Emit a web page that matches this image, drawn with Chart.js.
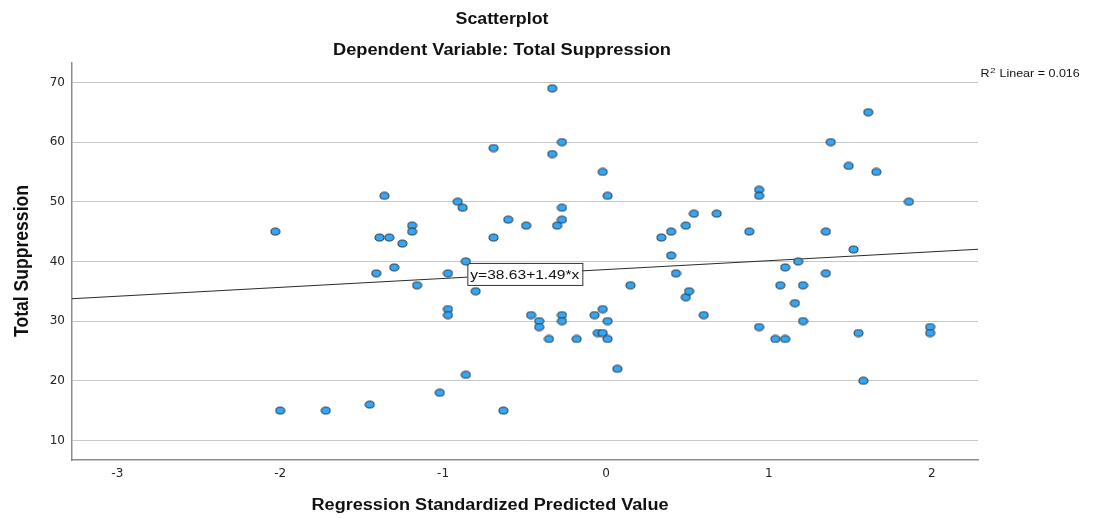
<!DOCTYPE html>
<html>
<head>
<meta charset="utf-8">
<title>Scatterplot</title>
<script src="https://cdn.jsdelivr.net/npm/chart.js@4.4.1/dist/chart.umd.min.js"></script>
<style>
  html, body { margin: 0; padding: 0; background: #ffffff; }
  #wrap { width: 1095px; height: 518px; }
</style>
</head>
<body>
<div id="wrap"><canvas id="scatter-chart" width="1095" height="518"></canvas></div>
<script>
// values
var predictedValues = [
    -2.03, -2.00, -1.72, -1.45, -1.36, -1.41, -1.30, -1.39, -1.33, -1.25,
    -1.19, -1.19, -1.16, -1.02, -0.97, -0.97, -0.97, -0.91, -0.88, -0.86,
    -0.86, -0.80, -0.69, -0.69, -0.63, -0.60, -0.49, -0.46, -0.41, -0.41,
    -0.35, -0.33, -0.33, -0.30, -0.27, -0.27, -0.27, -0.27, -0.27, -0.18,
    -0.07, -0.05, -0.02, -0.02, -0.02, 0.01, 0.01, 0.01, 0.07, 0.15,
    0.34, 0.40, 0.40, 0.43, 0.49, 0.49, 0.51, 0.54, 0.60, 0.68,
    0.88, 0.94, 0.94, 0.94, 1.04, 1.07, 1.10, 1.10, 1.16, 1.18,
    1.21, 1.21, 1.35, 1.35, 1.38, 1.49, 1.52, 1.55, 1.58, 1.61,
    1.66, 1.86, 1.99, 1.99
];
var suppressionValues = [
    45, 15, 15, 16, 51, 38, 39, 44, 44, 43,
    46, 45, 36, 18, 38, 32, 31, 50, 49, 40,
    21, 35, 59, 44, 15, 47, 46, 31, 30, 29,
    27, 69, 58, 46, 60, 49, 47, 31, 30, 27,
    31, 28, 55, 32, 28, 51, 30, 27, 22, 36,
    44, 45, 41, 38, 46, 34, 35, 48, 31, 48,
    45, 52, 51, 29, 27, 36, 39, 27, 33, 40,
    36, 30, 45, 38, 60, 56, 42, 28, 20, 65,
    55, 50, 29, 28
];
var xTicks = [-3, -2, -1, 0, 1, 2];
var yTicks = [10, 20, 30, 40, 50, 60, 70];
var fitIntercept = 38.63;
var fitSlope = 1.49;
var rSquared = '0.016';

var xMin = -3.278, xMax = 2.284;
var yMin = 6.72, yMax = 73.25;

points = [];
for (i = 0; i < predictedValues.length; i++) {
    points.push({ x: predictedValues[i], y: suppressionValues[i] });
}
fitLine = [
    { x: xMin, y: fitIntercept + fitSlope * xMin },
    { x: xMax, y: fitIntercept + fitSlope * xMax }
];

// elliptic marker like the SPSS one
var marker = document.createElement('canvas');
marker.width = 11;
marker.height = 9;
(function () {
    var c = marker.getContext('2d');
    c.beginPath();
    c.ellipse(5.5, 4.5, 4.5, 3.5, 0, 0, Math.PI * 2);
    c.fillStyle = '#33a6f4';
    c.fill();
    c.lineWidth = 1;
    c.strokeStyle = '#24303c';
    c.stroke();
})();

function fitText(ctx, text, cx, base, font, targetWidth) {
    ctx.font = font;
    var w = ctx.measureText(text).width;
    ctx.save();
    ctx.translate(cx, base);
    ctx.scale(targetWidth / w, 1);
    ctx.textAlign = 'center';
    ctx.textBaseline = 'alphabetic';
    ctx.fillText(text, 0, 0);
    ctx.restore();
}

var textPlugin = {
    id: 'spssText',
    afterDatasetDraw: function (chart, args) {
        if (args.index !== 1) return;
        // equation box on the fit line
        var ctx = chart.ctx;
        var xs = chart.scales.x, ys = chart.scales.y;
        var left = xs.getPixelForValue(-0.851);
        var mid = ys.getPixelForValue(37.9);
        ctx.save();
        ctx.fillStyle = '#ffffff';
        ctx.fillRect(left, mid - 11, 115, 22);
        ctx.strokeStyle = '#333333';
        ctx.lineWidth = 1;
        ctx.strokeRect(left + 0.5, mid - 11 + 0.5, 115, 22);
        ctx.fillStyle = '#111111';
        fitText(ctx, 'y=' + fitIntercept.toFixed(2) + '+' + fitSlope.toFixed(2) + '*x',
            left + 57.5, mid + 5, '13px "Liberation Sans"', 109);
        ctx.restore();
    },
    afterDraw: function (chart) {
        var ctx = chart.ctx;
        ctx.save();
        ctx.fillStyle = '#111111';
        fitText(ctx, 'Scatterplot', 502, 23.5, 'bold 16px "Liberation Sans"', 93);
        fitText(ctx, 'Dependent Variable: Total Suppression', 502, 55, 'bold 16.5px "Liberation Sans"', 338);
        fitText(ctx, 'Regression Standardized Predicted Value', 490, 510, 'bold 16px "Liberation Sans"', 357);

        // y axis title
        ctx.save();
        ctx.translate(27.5, 261);
        ctx.rotate(-Math.PI / 2);
        ctx.font = 'bold 17px "Liberation Sans"';
        var t = 'Total Suppression';
        var w = ctx.measureText(t).width;
        ctx.scale(152 / w, 1.17);
        ctx.textAlign = 'center';
        ctx.textBaseline = 'alphabetic';
        ctx.fillText(t, 0, 0);
        ctx.restore();

        // R squared note
        ctx.save();
        ctx.translate(980.5, 76.5);
        ctx.scale(1.25, 1);
        ctx.textAlign = 'left';
        ctx.textBaseline = 'alphabetic';
        ctx.font = '10px "Liberation Sans"';
        ctx.fillText('R', 0, 0);
        var rw = ctx.measureText('R').width;
        ctx.font = '7.5px "Liberation Sans"';
        ctx.fillText('2', rw + 0.5, -4);
        var sw = ctx.measureText('2').width;
        ctx.font = '10px "Liberation Sans"';
        ctx.fillText(' Linear = ' + rSquared, rw + sw + 1, 0);
        ctx.restore();
        ctx.restore();
    }
};

new Chart(document.getElementById('scatter-chart'), {
    type: 'scatter',
    data: {
        datasets: [
            {
                label: 'Total Suppression',
                data: points,
                pointStyle: marker,
                pointRadius: 5,
                pointHoverRadius: 5
            },
            {
                type: 'line',
                label: 'Linear fit',
                data: fitLine,
                showLine: true,
                borderColor: '#2b2b2b',
                borderWidth: 1,
                pointRadius: 0,
                fill: false
            }
        ]
    },
    options: {
        responsive: false,
        animation: false,
        devicePixelRatio: 1,
        layout: { padding: { top: 63, right: 117, left: 0, bottom: 0 } },
        plugins: {
            legend: { display: false },
            title: { display: false },
            tooltip: { enabled: false }
        },
        scales: {
            x: {
                type: 'linear',
                min: xMin,
                max: xMax,
                afterBuildTicks: function (scale) {
                    scale.ticks = xTicks.map(function (v) { return { value: v }; });
                },
                afterFit: function (scale) { scale.height = 58; },
                grid: { display: false, drawTicks: false },
                border: { display: true, color: '#8c8c8c', width: 1.5 },
                ticks: {
                    padding: 7,
                    color: '#222222',
                    font: { family: 'DejaVu Sans', size: 12 }
                }
            },
            y: {
                type: 'linear',
                min: yMin,
                max: yMax,
                afterBuildTicks: function (scale) {
                    scale.ticks = yTicks.map(function (v) { return { value: v }; });
                },
                afterFit: function (scale) { scale.width = 72; },
                grid: { color: '#c8c8c8', lineWidth: 1, drawTicks: false },
                border: { display: true, color: '#8c8c8c', width: 1.5 },
                ticks: {
                    padding: 7,
                    color: '#222222',
                    font: { family: 'DejaVu Sans', size: 12 }
                }
            }
        }
    },
    plugins: [textPlugin]
});
</script>
</body>
</html>
